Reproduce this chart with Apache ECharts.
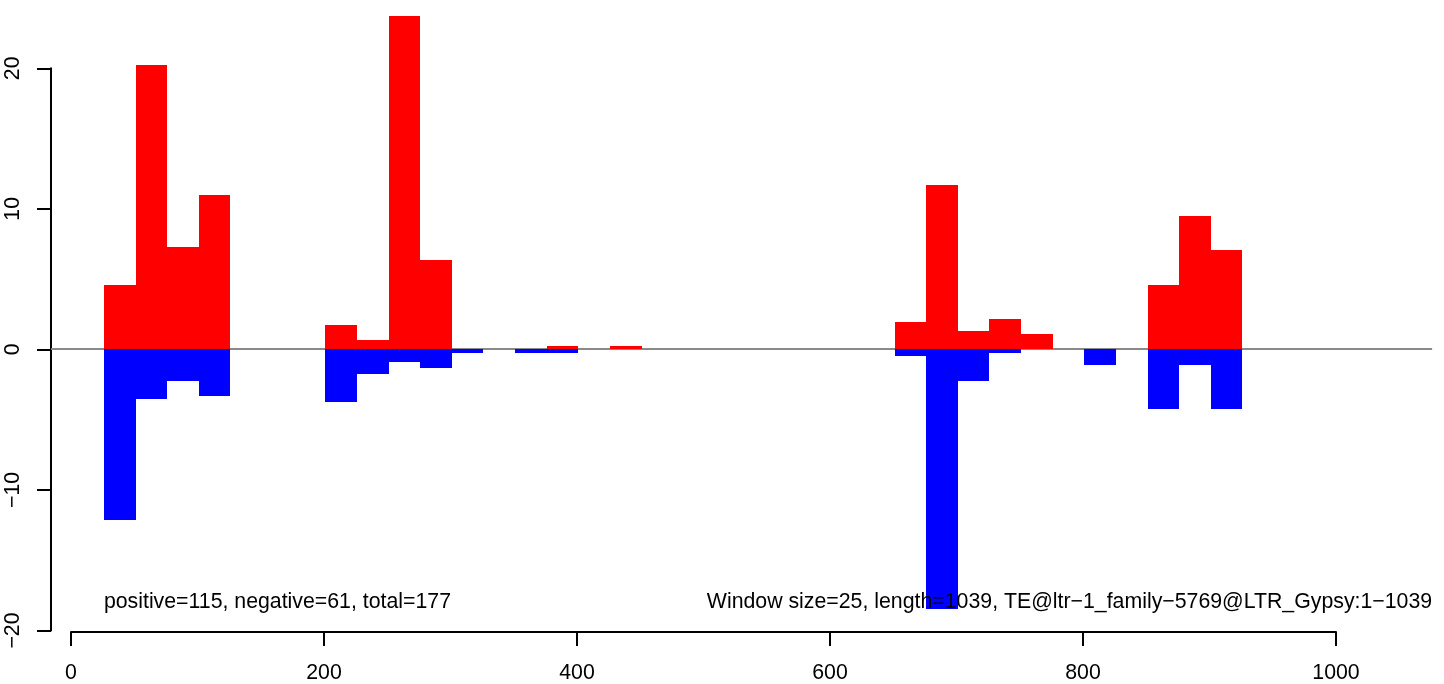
<!DOCTYPE html>
<html>
<head>
<meta charset="utf-8">
<script src="https://cdn.jsdelivr.net/npm/echarts@6/dist/echarts.min.js"></script>
<style>
html,body{margin:0;padding:0;background:#fff;}
#chart{width:1444px;height:684px;}
</style>
</head>
<body>
<div id="chart"></div>
<script>
// ---- data ----
const windowSize = 25;
const windowStarts = [26, 51, 76, 101, 201, 226, 251, 276, 301, 351, 376, 426, 651, 676, 701, 726, 751, 801, 851, 876, 901];
const positiveValues = [4.6, 20.2, 7.28, 11.02, 1.77, 0.64, 23.75, 6.36, 0, 0, 0.21, 0.21, 1.98, 11.68, 1.34, 2.19, 1.13, 0, 4.59, 9.47, 7.07];
const negativeValues = [-12.13, -3.53, -2.26, -3.30, -3.72, -1.74, -0.92, -1.32, -0.26, -0.26, -0.26, 0, -0.47, -18.49, -2.24, -0.26, 0, -1.11, -4.22, -1.11, -4.22];
const xTicks = [0, 200, 400, 600, 800, 1000];
const yTicks = [-20, -10, 0, 10, 20];
const leftNote = 'positive=115, negative=61, total=177';
const rightNote = 'Window size=25, length=1039, TE@ltr\u22121_family\u22125769@LTR_Gypsy:1\u22121039';

// plot-region extent in data units (R usr) for the h=0 line and notes
const usrX = [-15.8, 1076];
const noteY = -18;
const leftNoteX = 26;

const FONT = '"Liberation Sans", Arial, Helvetica, sans-serif';

const posData = windowStarts.map((s, i) => [s, s + windowSize, positiveValues[i]]).filter(d => d[2] !== 0);
const negData = windowStarts.map((s, i) => [s, s + windowSize, negativeValues[i]]).filter(d => d[2] !== 0);

function barRender(color) {
  return function (params, api) {
    const p1 = api.coord([api.value(0), api.value(2)]);
    const p2 = api.coord([api.value(1), 0]);
    const x0 = Math.round(p1[0]), x1 = Math.round(p2[0]);
    const ya = Math.round(p1[1]), yb = Math.round(p2[1]);
    return {
      type: 'rect',
      shape: { x: x0, y: Math.min(ya, yb), width: x1 - x0, height: Math.abs(yb - ya) },
      style: { fill: color, stroke: null }
    };
  };
}

const minus = v => (v < 0 ? '\u2212' + Math.abs(v) : String(v));

const chart = echarts.init(document.getElementById('chart'), null, { renderer: 'canvas' });
chart.setOption({
  animation: false,
  backgroundColor: '#ffffff',
  grid: { left: 71, width: 1265, top: 68.3, height: 565.7, containLabel: false },
  xAxis: {
    type: 'value', min: xTicks[0], max: xTicks[xTicks.length - 1], interval: 200,
    offset: 1.5,
    splitLine: { show: false },
    axisLine: { show: true, onZero: false, lineStyle: { color: '#000', width: 2 } },
    axisTick: { show: true, length: 14, lineStyle: { color: '#000', width: 2 } },
    axisLabel: { color: '#000', fontSize: 21.3, fontFamily: FONT, margin: 31, formatter: minus }
  },
  yAxis: {
    type: 'value', min: yTicks[0], max: yTicks[yTicks.length - 1], interval: 10,
    offset: 20,
    splitLine: { show: false },
    axisLine: { show: true, onZero: false, lineStyle: { color: '#000', width: 2 } },
    axisTick: { show: true, length: 14, lineStyle: { color: '#000', width: 2 } },
    axisLabel: { color: '#000', fontSize: 21.3, fontFamily: FONT, rotate: 90, margin: 27, formatter: minus }
  },
  series: [
    {
      type: 'custom', clip: false, z: 1,
      data: [[usrX[0], usrX[1]]],
      renderItem: function (params, api) {
        const a = api.coord([api.value(0), 0]);
        const b = api.coord([api.value(1), 0]);
        return { type: 'line', shape: { x1: a[0], y1: Math.round(a[1]), x2: b[0], y2: Math.round(b[1]) }, style: { stroke: '#8a8a8a', lineWidth: 2 } };
      }
    },
    { type: 'custom', clip: false, z: 2, data: posData, renderItem: barRender('#ff0000') },
    { type: 'custom', clip: false, z: 3, data: negData, renderItem: barRender('#0000ff') },
    {
      type: 'custom', clip: false, z: 4,
      data: [[leftNoteX, noteY, 0], [usrX[1], noteY, 1]],
      renderItem: function (params, api) {
        const p = api.coord([api.value(0), api.value(1)]);
        const right = api.value(2) === 1;
        return {
          type: 'text',
          style: {
            x: p[0], y: p[1], text: right ? rightNote : leftNote,
            fill: '#000', font: '21.3px ' + FONT,
            textAlign: right ? 'right' : 'left', textVerticalAlign: 'middle'
          }
        };
      }
    }
  ]
});
</script>
</body>
</html>
